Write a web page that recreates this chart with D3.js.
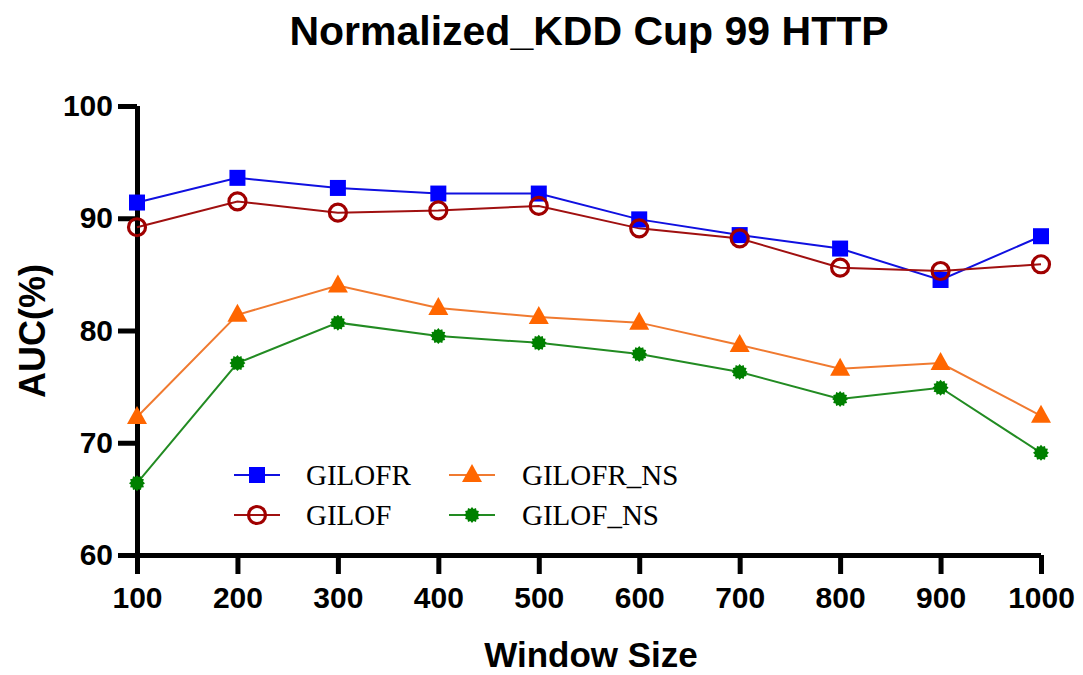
<!DOCTYPE html>
<html>
<head>
<meta charset="utf-8">
<script src="https://cdn.jsdelivr.net/npm/d3@7"></script>
<style>
  html, body { margin: 0; padding: 0; background: #fff; }
  svg { display: block; }
</style>
</head>
<body>
<svg id="chart" width="1083" height="675"></svg>
<script>
// Window sizes on the x axis
const windowSizes = [100, 200, 300, 400, 500, 600, 700, 800, 900, 1000];

// AUC (%) per window size for each method
const gilofr   = [91.4, 93.6, 92.7, 92.2, 92.2, 89.9, 88.5, 87.3, 84.5, 88.4];
const gilof    = [89.2, 91.5, 90.5, 90.7, 91.1, 89.1, 88.2, 85.6, 85.3, 85.9];
const gilofrNs = [72.3, 81.4, 84.0, 82.0, 81.2, 80.7, 78.7, 76.6, 77.1, 72.4];
const gilofNs  = [66.4, 77.1, 80.7, 79.5, 78.9, 77.9, 76.3, 73.9, 74.9, 69.1];

const yTicks = [60, 70, 80, 90, 100];

const series = [
  { name: "GILOFR",    values: gilofr,   marker: "square",   line: "#1010e0", fill: "#0000ff" },
  { name: "GILOF",     values: gilof,    marker: "circle",   line: "#a01010", fill: "#a00000" },
  { name: "GILOFR_NS", values: gilofrNs, marker: "triangle", line: "#f07a30", fill: "#ff6600" },
  { name: "GILOF_NS",  values: gilofNs,  marker: "star",     line: "#228b22", fill: "#008000" }
];

const svg = d3.select("#chart");
const plotLeft = 137, plotRight = 1041, plotTop = 106, plotBottom = 555;

const x = d3.scaleLinear().domain([100, 1000]).range([plotLeft, plotRight]);
const y = d3.scaleLinear().domain([60, 100]).range([plotBottom, plotTop]);

const sansFont = "Liberation Sans, Arial, sans-serif";

// Title
svg.append("text")
  .attr("x", 589).attr("y", 45)
  .attr("text-anchor", "middle")
  .attr("font-family", sansFont)
  .attr("font-weight", "bold")
  .attr("font-size", 41)
  .text("Normalized_KDD Cup 99 HTTP");

// Axes
const xAxis = svg.append("g")
  .attr("transform", `translate(0,${plotBottom})`)
  .call(d3.axisBottom(x).tickValues(windowSizes).tickSize(19).tickPadding(13).tickFormat(d3.format("d")));
const yAxis = svg.append("g")
  .attr("transform", `translate(${plotLeft},0)`)
  .call(d3.axisLeft(y).tickValues(yTicks).tickSize(19).tickPadding(5).tickFormat(d3.format("d")));

[xAxis, yAxis].forEach(g => {
  g.select(".domain").attr("stroke", "#000").attr("stroke-width", 5);
  g.selectAll(".tick line").attr("stroke", "#000").attr("stroke-width", 5);
  g.selectAll(".tick text")
    .attr("fill", "#000")
    .attr("font-family", sansFont)
    .attr("font-weight", "bold")
    .attr("font-size", 30);
});
// plain axis lines without outer end ticks
xAxis.select(".domain").attr("d", `M${plotLeft},0.5H${plotRight}`);
yAxis.select(".domain").attr("d", `M0.5,${plotTop}V${plotBottom}`);

// Axis titles
svg.append("text")
  .attr("x", 591).attr("y", 667)
  .attr("text-anchor", "middle")
  .attr("font-family", sansFont).attr("font-weight", "bold").attr("font-size", 35)
  .text("Window Size");
svg.append("text")
  .attr("transform", "translate(45,331) rotate(-90)")
  .attr("text-anchor", "middle")
  .attr("font-family", sansFont).attr("font-weight", "bold").attr("font-size", 36)
  .text("AUC(%)");

// Marker drawing
function starPath(rOuter, rInner, n) {
  const pts = [];
  for (let i = 0; i < 2 * n; i++) {
    const r = i % 2 === 0 ? rOuter : rInner;
    const a = Math.PI * i / n - Math.PI / 2;
    pts.push([r * Math.cos(a), r * Math.sin(a)]);
  }
  return "M" + pts.map(p => p.join(",")).join("L") + "Z";
}

function drawMarker(g, s) {
  if (s.marker === "square") {
    g.append("rect").attr("x", -8).attr("y", -8).attr("width", 16).attr("height", 16)
      .attr("fill", s.fill);
  } else if (s.marker === "circle") {
    g.append("circle").attr("r", 8.5).attr("fill", "none")
      .attr("stroke", s.fill).attr("stroke-width", 3.2);
  } else if (s.marker === "triangle") {
    g.append("path").attr("d", "M0,-11L10,7L-10,7Z").attr("fill", s.fill);
  } else {
    g.append("path").attr("d", starPath(8, 6.3, 12)).attr("fill", s.fill);
  }
}

const line = d3.line().x((d, i) => x(windowSizes[i])).y(d => y(d));

series.forEach(s => {
  svg.append("path")
    .datum(s.values)
    .attr("d", line)
    .attr("fill", "none")
    .attr("stroke", s.line)
    .attr("stroke-width", 2);
});
series.forEach(s => {
  s.values.forEach((v, i) => {
    const g = svg.append("g").attr("transform", `translate(${x(windowSizes[i])},${y(v)})`);
    drawMarker(g, s);
  });
});

// Legend
const legendPos = [
  { lx: 234, tx: 306, y: 475 },
  { lx: 234, tx: 306, y: 515 },
  { lx: 449, tx: 522, y: 475 },
  { lx: 449, tx: 522, y: 515 }
];
series.forEach((s, i) => {
  const p = legendPos[i];
  const g = svg.append("g");
  g.append("line").attr("x1", p.lx).attr("x2", p.lx + 46).attr("y1", p.y).attr("y2", p.y)
    .attr("stroke", s.line).attr("stroke-width", 2);
  const m = g.append("g").attr("transform", `translate(${p.lx + 23},${p.y})`);
  drawMarker(m, s);
  g.append("text").attr("x", p.tx).attr("y", p.y + 10)
    .attr("font-family", "Liberation Serif, Times New Roman, serif")
    .attr("font-size", 29)
    .attr("fill", "#000")
    .text(s.name);
});
</script>
</body>
</html>
